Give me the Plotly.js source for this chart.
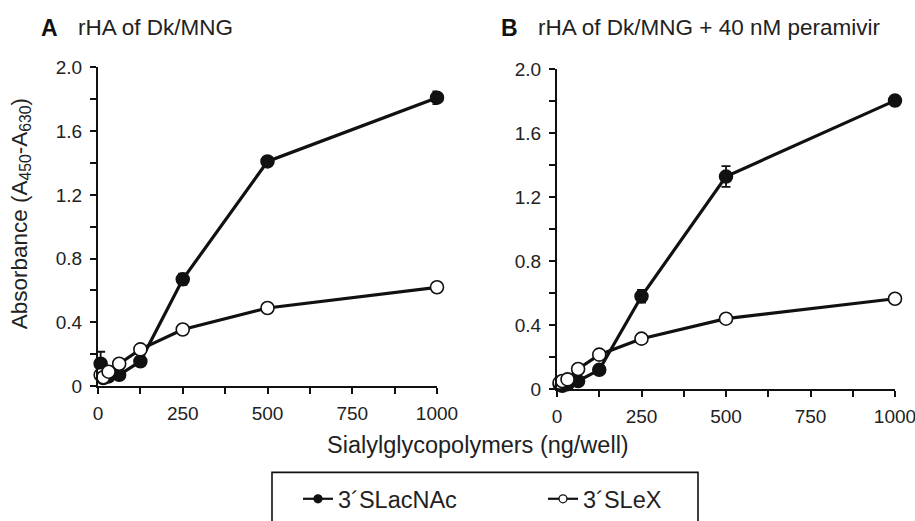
<!DOCTYPE html>
<html>
<head>
<meta charset="utf-8">
<script src="https://cdn.plot.ly/plotly-3.0.1.min.js"></script>
<style>html,body{margin:0;padding:0;background:#fff;}#chart{width:915px;height:521px;}</style>
</head>
<body>
<div id="chart"></div>
<script>
// ---- data ----
const doses = [7.8, 15.6, 31.25, 62.5, 125, 250, 500, 1000];
const seriesNames = ['3\u00b4SLacNAc', '3\u00b4SLeX'];
const aLacNAc = [0.14, 0.05, 0.06, 0.07, 0.155, 0.67, 1.41, 1.81];
const aLacNAcErr = [0.075, 0.01, 0.01, 0.015, 0.02, 0.035, 0.025, 0.04];
const aLeX = [0.07, 0.055, 0.09, 0.14, 0.23, 0.355, 0.49, 0.62];
const bLacNAc = [0.03, 0.02, 0.03, 0.05, 0.12, 0.58, 1.33, 1.805];
const bLacNAcErr = [0.005, 0.005, 0.005, 0.01, 0.015, 0.04, 0.065, 0.02];
const bLeX = [0.04, 0.05, 0.06, 0.125, 0.215, 0.315, 0.44, 0.565];
const yTickVals = [0, 0.4, 0.8, 1.2, 1.6, 2.0];
const yTickText = ['0', '0.4', '0.8', '1.2', '1.6', '2.0'];
const yMinorVals = [0.2, 0.6, 1.0, 1.4, 1.8];
const xTickVals = [0, 250, 500, 750, 1000];
const xTickText = ['0', '250', '500', '750', '1000'];
const xMinorVals = [125, 375, 625, 875];
const panelLetters = ['A', 'B'];
const panelTitles = ['rHA of Dk/MNG', 'rHA of Dk/MNG + 40 nM peramivir'];
const xTitle = 'Sialylglycopolymers (ng/well)';
const yTitle = 'Absorbance (A<sub>450</sub>-A<sub>630</sub>)';

// ---- layout helpers ----
const W = 915, H = 521;
const px = v => v / W;
const py = v => 1 - v / H;
const ink = '#111';
const FONT = 'Liberation Sans, Arial, Helvetica, sans-serif';

function filled(y, err, xa, ya) {
  return {
    x: doses, y: y, xaxis: xa, yaxis: ya, type: 'scatter', mode: 'lines+markers',
    name: seriesNames[0], showlegend: false, cliponaxis: false,
    line: {color: ink, width: 3.2},
    marker: {symbol: 'circle', size: 13, color: ink, line: {color: ink, width: 1.5}},
    error_y: {type: 'data', array: err, visible: true, color: ink, thickness: 1.8, width: 4.5}
  };
}
function open(y, xa, ya) {
  return {
    x: doses, y: y, xaxis: xa, yaxis: ya, type: 'scatter', mode: 'lines+markers',
    name: seriesNames[1], showlegend: false, cliponaxis: false,
    line: {color: ink, width: 3.2},
    marker: {symbol: 'circle', size: 13, color: '#fff', line: {color: ink, width: 1.6}}
  };
}
// legend keys (no data points; styled like the reference key)
function key(name, fill) {
  return {
    x: [null], y: [null], type: 'scatter', mode: 'lines+markers', name: name, showlegend: true,
    line: {color: ink, width: 2.2},
    marker: {symbol: 'circle', size: 8, color: fill, line: {color: ink, width: 1.3}}
  };
}

const traces = [
  filled(aLacNAc, aLacNAcErr, 'x', 'y'),
  open(aLeX, 'x', 'y'),
  filled(bLacNAc, bLacNAcErr, 'x2', 'y2'),
  open(bLeX, 'x2', 'y2'),
  key(seriesNames[0], ink),
  key(seriesNames[1], '#fff')
];

const minorTick = vals => ({tickmode: 'array', tickvals: vals, ticks: 'outside', ticklen: 6, tickwidth: 2, tickcolor: ink, showgrid: false});

function xAxis(domain, anchor) {
  return {
    domain: domain, anchor: anchor, range: [0, 1000], showgrid: false, zeroline: false,
    showline: true, linecolor: ink, linewidth: 2,
    ticks: 'outside', ticklen: 6, tickwidth: 2, tickcolor: ink,
    tickmode: 'array', tickvals: xTickVals, ticktext: xTickText,
    minor: minorTick(xMinorVals),
    ticklabeloverflow: 'allow',
    tickfont: {family: FONT, size: 19, color: '#222'}, ticklabelstandoff: 3
  };
}
function yAxis(domain, anchor) {
  return {
    domain: domain, anchor: anchor, range: [0, 2], showgrid: false, zeroline: false,
    showline: true, linecolor: ink, linewidth: 2,
    ticks: 'outside', ticklen: 6, tickwidth: 2, tickcolor: ink,
    tickmode: 'array', tickvals: yTickVals, ticktext: yTickText,
    minor: minorTick(yMinorVals),
    ticklabeloverflow: 'allow',
    tickfont: {family: FONT, size: 19, color: '#222'}, ticklabelstandoff: 4
  };
}

const annFont = {family: FONT, size: 22.5, color: '#222'};
const layout = {
  width: W, height: H,
  margin: {l: 0, r: 0, t: 0, b: 0},
  paper_bgcolor: '#fff', plot_bgcolor: '#fff',
  xaxis: xAxis([px(98), px(437)], 'y'),
  yaxis: yAxis([py(389), py(68)], 'x'),
  xaxis2: xAxis([px(557), px(895)], 'y2'),
  yaxis2: yAxis([py(392), py(70)], 'x2'),
  showlegend: true,
  legend: {
    orientation: 'h', x: px(298), xanchor: 'left', y: py(503), yanchor: 'middle',
    font: {family: FONT, size: 23.5, color: '#222'}, bgcolor: 'rgba(0,0,0,0)',
    borderwidth: 0, entrywidth: 200, entrywidthmode: 'pixels', itemsizing: 'trace'
  },
  shapes: [
    {type: 'rect', xref: 'paper', yref: 'paper', x0: px(272), x1: px(698), y0: py(476), y1: py(540),
     line: {color: ink, width: 1.6}, fillcolor: 'rgba(0,0,0,0)'}
  ],
  annotations: [
    {xref: 'paper', yref: 'paper', x: px(39), y: py(28), xanchor: 'left', yanchor: 'middle', showarrow: false,
     text: '<b>' + panelLetters[0] + '</b>', font: {family: FONT, size: 23, color: '#111'}},
    {xref: 'paper', yref: 'paper', x: px(76), y: py(28), xanchor: 'left', yanchor: 'middle', showarrow: false,
     text: panelTitles[0], font: annFont},
    {xref: 'paper', yref: 'paper', x: px(499), y: py(28), xanchor: 'left', yanchor: 'middle', showarrow: false,
     text: '<b>' + panelLetters[1] + '</b>', font: {family: FONT, size: 23, color: '#111'}},
    {xref: 'paper', yref: 'paper', x: px(536), y: py(28), xanchor: 'left', yanchor: 'middle', showarrow: false,
     text: panelTitles[1], font: annFont},
    {xref: 'paper', yref: 'paper', x: px(478), y: py(448), xanchor: 'center', yanchor: 'middle', showarrow: false,
     text: xTitle, font: {family: FONT, size: 23.5, color: '#222'}},
    {xref: 'paper', yref: 'paper', x: px(21), y: py(216), xanchor: 'center', yanchor: 'middle', showarrow: false,
     textangle: -90, text: yTitle, font: {family: FONT, size: 22.5, color: '#222'}}
  ]
};

Plotly.newPlot('chart', traces, layout, {staticPlot: true, displayModeBar: false});
</script>
</body>
</html>
